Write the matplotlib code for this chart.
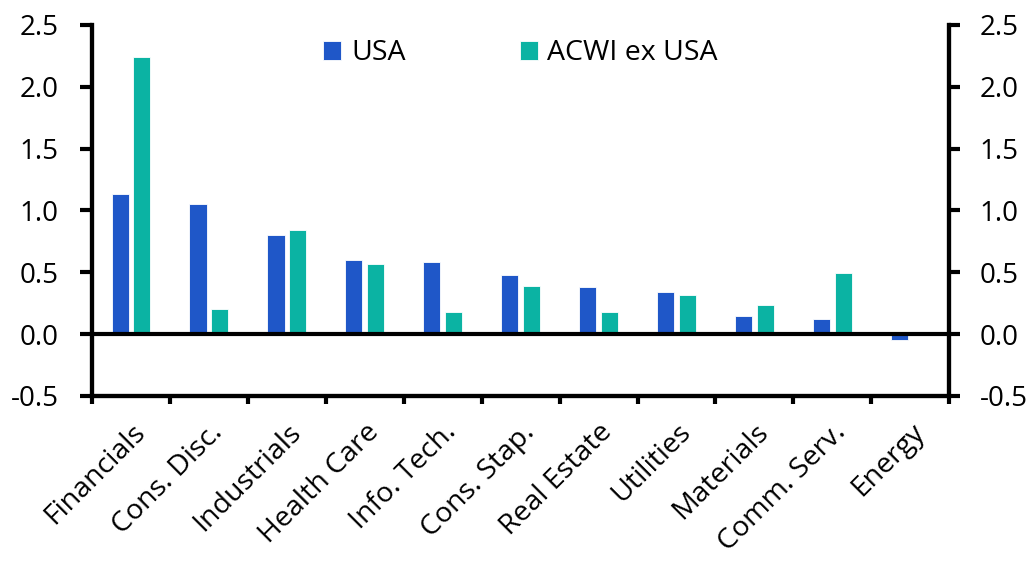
import matplotlib.pyplot as plt
import numpy as np

plt.rcParams["font.family"] = ["Open Sans", "DejaVu Sans"]

sectors = ["Financials", "Cons. Disc.", "Industrials", "Health Care", "Info. Tech.",
           "Cons. Stap.", "Real Estate", "Utilities", "Materials", "Comm. Serv.", "Energy"]
usa = [1.135, 1.055, 0.80, 0.595, 0.58, 0.475, 0.38, 0.34, 0.15, 0.125, -0.045]
acwi_ex_usa = [2.24, 0.205, 0.84, 0.57, 0.18, 0.39, 0.18, 0.315, 0.235, 0.49, 0.0]

blue = "#1f57c8"
teal = "#0bb3a3"

fig = plt.figure(figsize=(10.34, 5.64), dpi=100)
ax = fig.add_axes([0.089, 0.298, 0.829, 0.658])

x = np.arange(len(sectors))
w = 0.22
ax.bar(x - 0.14, usa, w, color=blue, edgecolor="white", linewidth=0.6, label="USA")
ax.bar(x + 0.14, acwi_ex_usa, w, color=teal, edgecolor="white", linewidth=0.6,
       label="ACWI ex USA")

ax.axhline(0, color="black", linewidth=3, zorder=3)
ax.set_xlim(-0.5, len(sectors) - 0.5)
ax.set_ylim(-0.5, 2.5)
yt = np.arange(-0.5, 2.51, 0.5)
ax.set_yticks(yt)
ax.set_yticklabels([f"{v:.1f}" for v in yt])

# group separators as major ticks, sector names on minor ticks
ax.set_xticks(np.arange(len(sectors) + 1) - 0.5, minor=False)
ax.set_xticklabels([])
ax.set_xticks(x, minor=True)
ax.set_xticklabels(sectors, minor=True, rotation=45, ha="right", rotation_mode="anchor")
ax.tick_params(axis="x", which="minor", length=0, pad=16, labelsize=20.5)
ax.tick_params(axis="x", which="major", length=6, width=3, direction="out")
ax.tick_params(axis="y", length=9, width=3, direction="out", labelsize=20, pad=15)

ax2 = ax.twinx()
ax2.set_ylim(ax.get_ylim())
ax2.set_yticks(yt)
ax2.set_yticklabels([f"{v:.1f}" for v in yt])
ax2.tick_params(axis="y", length=8, width=3, direction="out", labelsize=20, pad=14)

for a in (ax, ax2):
    a.spines["top"].set_visible(False)
    for s in ("left", "right", "bottom"):
        a.spines[s].set_linewidth(3)

ax.legend(loc="upper center", bbox_to_anchor=(0.5, 1.03), ncol=2, frameon=False,
          fontsize=20.5, handlelength=0.63, handleheight=0.63, columnspacing=4.0,
          handletextpad=0.35)

fig.savefig("out.png", dpi=100, facecolor="white")
